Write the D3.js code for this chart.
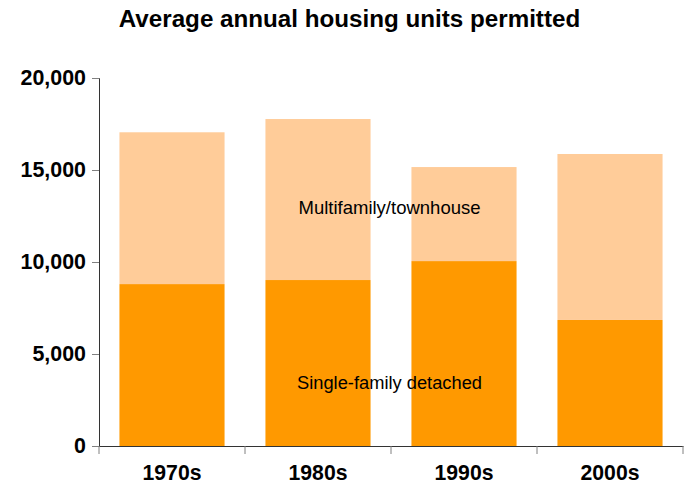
<!DOCTYPE html>
<html><head><meta charset="utf-8">
<script src="https://cdn.jsdelivr.net/npm/d3@7"></script>
<style>body{margin:0;background:#fff}svg{display:block;font-family:"Liberation Sans",Arial,sans-serif}</style>
</head><body><svg id="c" width="689" height="489"></svg>
<script>
const categories = ["1970s","1980s","1990s","2000s"];
const singleFamily = [8800, 9020, 10050, 6850];
const multifamily = [8250, 8750, 5110, 9020];
const yTicks = [0, 5000, 10000, 15000, 20000];
const seriesNames = ["Single-family detached","Multifamily/townhouse"];
const colors = ["#FF9900","#FFCC99"];

const svg = d3.select("#c");
const L = 99, R = 683, T = 78, B = 446;
const x = d3.scaleBand().domain(categories).range([L, R]).paddingInner(0.28).paddingOuter(0.14);
const y = d3.scaleLinear().domain([0, 20000]).range([B, T]);

const rows = categories.map((c,i)=>({cat:c, single:singleFamily[i], multi:multifamily[i]}));
const stack = d3.stack().keys(["single","multi"])(rows);

svg.append("g").selectAll("g").data(stack).join("g")
  .attr("fill",(d,i)=>colors[i])
  .selectAll("rect").data(d=>d).join("rect")
  .attr("x",d=>x(d.data.cat)).attr("width",x.bandwidth())
  .attr("y",d=>y(d[1])).attr("height",d=>y(d[0])-y(d[1]));

const yAxis = svg.append("g").attr("transform",`translate(${L},0)`)
  .call(d3.axisLeft(y).tickValues(yTicks).tickFormat(d3.format(",")).tickSizeOuter(0).tickSize(7).tickPadding(6));
yAxis.select(".domain").attr("stroke","#333");
yAxis.selectAll(".tick line").attr("stroke","#808080");
yAxis.selectAll("text").attr("font-size",21.4).attr("font-weight","bold").attr("fill","#000")
  .attr("font-family","'Liberation Sans',Arial,sans-serif");

const xb = d3.scaleBand().domain(categories).range([L,R]);
const xAxis = svg.append("g").attr("transform",`translate(0,${B})`)
  .call(d3.axisBottom(xb).tickSize(0).tickSizeOuter(0).tickPadding(19));
xAxis.select(".domain").attr("stroke","#333");
xAxis.selectAll("text").attr("font-size",21.2).attr("font-weight","bold").attr("fill","#000")
  .attr("font-family","'Liberation Sans',Arial,sans-serif");
svg.append("g").selectAll("line").data(d3.range(categories.length+1)).join("line")
  .attr("x1",i=>L+i*xb.step()).attr("x2",i=>L+i*xb.step())
  .attr("y1",B).attr("y2",B+8).attr("stroke","#808080");

svg.append("text").attr("x",349.5).attr("y",27).attr("text-anchor","middle")
  .attr("font-size",24.2).attr("font-weight","bold").text("Average annual housing units permitted");

svg.append("text").attr("x",389.5).attr("y",213.5).attr("text-anchor","middle").attr("font-size",18.5).text(seriesNames[1]);
svg.append("text").attr("x",389.5).attr("y",388.5).attr("text-anchor","middle").attr("font-size",18.3).text(seriesNames[0]);
</script></body></html>
